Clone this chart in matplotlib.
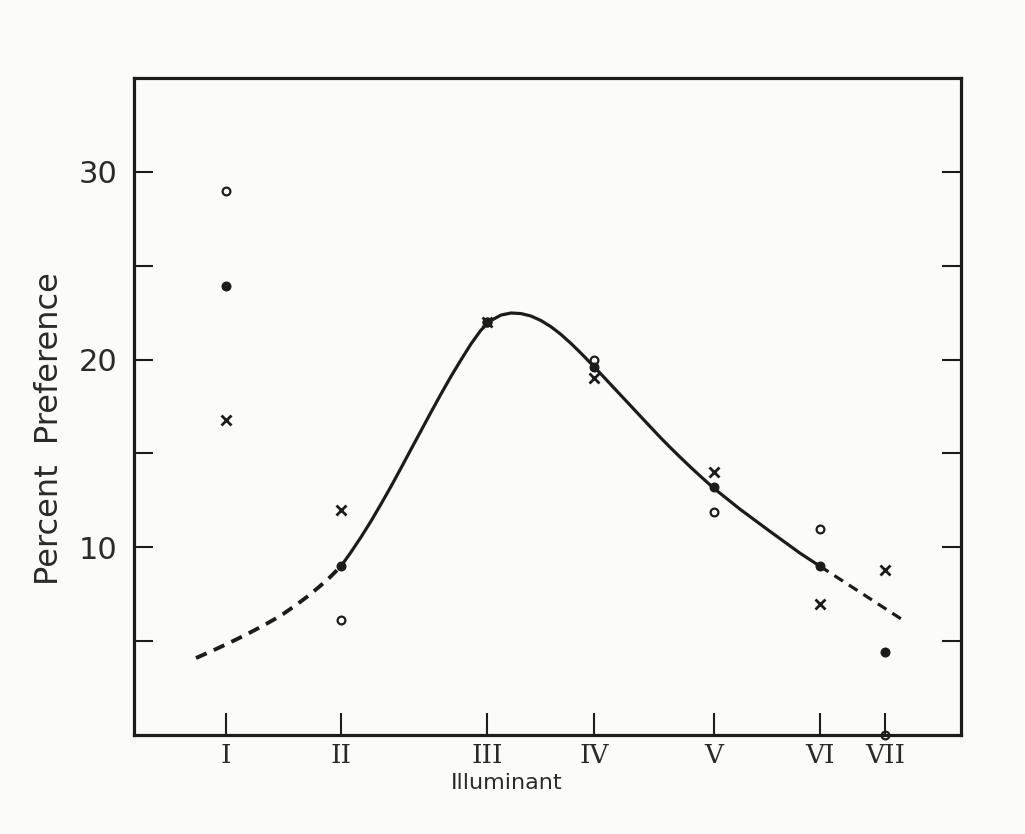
import matplotlib
matplotlib.use("Agg")
import matplotlib.pyplot as plt

# ── Data ──────────────────────────────────────────────────────────────────────

illuminants = ["I", "II", "III", "IV", "V", "VI", "VII"]
illum_pos = [11.1, 25.0, 42.7, 55.6, 70.1, 82.9, 90.8]

pct_open = [29.0, 6.1, 22.0, 20.0, 11.9, 11.0, 0.0]
pct_cross = [16.8, 12.0, 22.0, 19.0, 14.0, 7.0, 8.8]
pct_mean = [23.9, 9.0, 22.0, 19.6, 13.2, 9.0, 4.4]

# hand-drawn trend curve (solid part) and its dashed extrapolations
curve_x = [25.03, 26.24, 27.45, 28.66, 29.87, 31.08, 32.29, 33.49, 34.70, 35.91,
           37.12, 38.33, 39.54, 40.75, 41.96, 43.17, 44.38, 45.59, 46.80, 48.00,
           49.21, 50.42, 51.63, 52.84, 54.05, 55.26, 56.47, 57.68, 58.89, 60.10,
           61.31, 62.52, 63.72, 64.93, 66.14, 67.35, 68.56, 70.13, 73.28, 76.90,
           80.53, 82.95]
curve_y = [8.99, 9.74, 10.54, 11.39, 12.30, 13.24, 14.22, 15.21, 16.20, 17.19,
           18.16, 19.10, 19.98, 20.83, 21.57, 22.08, 22.37, 22.48, 22.45, 22.32,
           22.08, 21.75, 21.34, 20.86, 20.34, 19.79, 19.23, 18.66, 18.09, 17.52,
           16.95, 16.38, 15.82, 15.28, 14.76, 14.25, 13.76, 13.14, 12.03, 10.85,
           9.69, 8.99]

dash_left_x = [7.50, 9.19, 10.76, 12.33, 13.66, 14.99, 16.08, 17.17, 18.02,
               19.71, 20.92, 22.25, 23.46, 25.03]
dash_left_y = [4.10, 4.43, 4.75, 5.08, 5.37, 5.68, 5.94, 6.21, 6.44,
               6.96, 7.36, 7.84, 8.30, 8.99]
dash_right_x = [82.95, 87.79, 92.99]
dash_right_y = [8.99, 7.61, 6.12]

# ── Figure ────────────────────────────────────────────────────────────────────

INK = "#1c1c1c"
TEXT = "#2a2a2a"
PAPER = "#fbfcfa"

fig = plt.figure(figsize=(10.25, 8.34), dpi=100, facecolor=PAPER)
ax = fig.add_axes([0.1307, 0.1187, 0.8068, 0.7878], facecolor=PAPER)

ax.plot(curve_x, curve_y, color=INK, lw=2.3, solid_joinstyle="round",
        solid_capstyle="round", zorder=2)
ax.plot(dash_left_x, dash_left_y, color=INK, lw=2.8, dashes=(3.0, 2.0), zorder=2)
ax.plot(dash_right_x, dash_right_y, color=INK, lw=2.3, dashes=(3.2, 2.2), zorder=2)

ax.plot(illum_pos, pct_open, ls="none", marker="o", ms=5.6, mfc="none",
        mec=INK, mew=1.6, clip_on=False, zorder=3)
ax.plot(illum_pos, pct_mean, ls="none", marker="o", ms=6.2, mfc=INK,
        mec=INK, clip_on=False, zorder=3)
ax.plot(illum_pos, pct_cross, ls="none", marker="x", ms=7.0, mec=INK,
        mew=2.0, clip_on=False, zorder=3)

ax.set_xlim(0, 100)
ax.set_ylim(0, 35)

for side in ["left", "right", "top", "bottom"]:
    ax.spines[side].set_linewidth(2.3)
    ax.spines[side].set_color(INK)

ax.set_yticks([5, 10, 15, 20, 25, 30])
ax.set_yticklabels(["", "10", "", "20", "", "30"])
ax.tick_params(axis="y", direction="in", length=14, width=1.5, color=INK,
               right=True, labelsize=22, pad=12, labelcolor=TEXT)

ax.set_xticks(illum_pos)
ax.set_xticklabels(illuminants, family="DejaVu Serif")
ax.tick_params(axis="x", direction="in", length=16, width=1.5, color=INK,
               labelsize=19, pad=6, labelcolor=TEXT)

ax.text(0.451, -0.073, "Illuminant", transform=ax.transAxes, fontsize=16,
        color=TEXT, ha="center", va="center")
ax.set_ylabel("Percent  Preference", fontsize=23, color=TEXT,
              y=0.467, labelpad=10)

fig.savefig("out.png", dpi=100, facecolor=PAPER)
